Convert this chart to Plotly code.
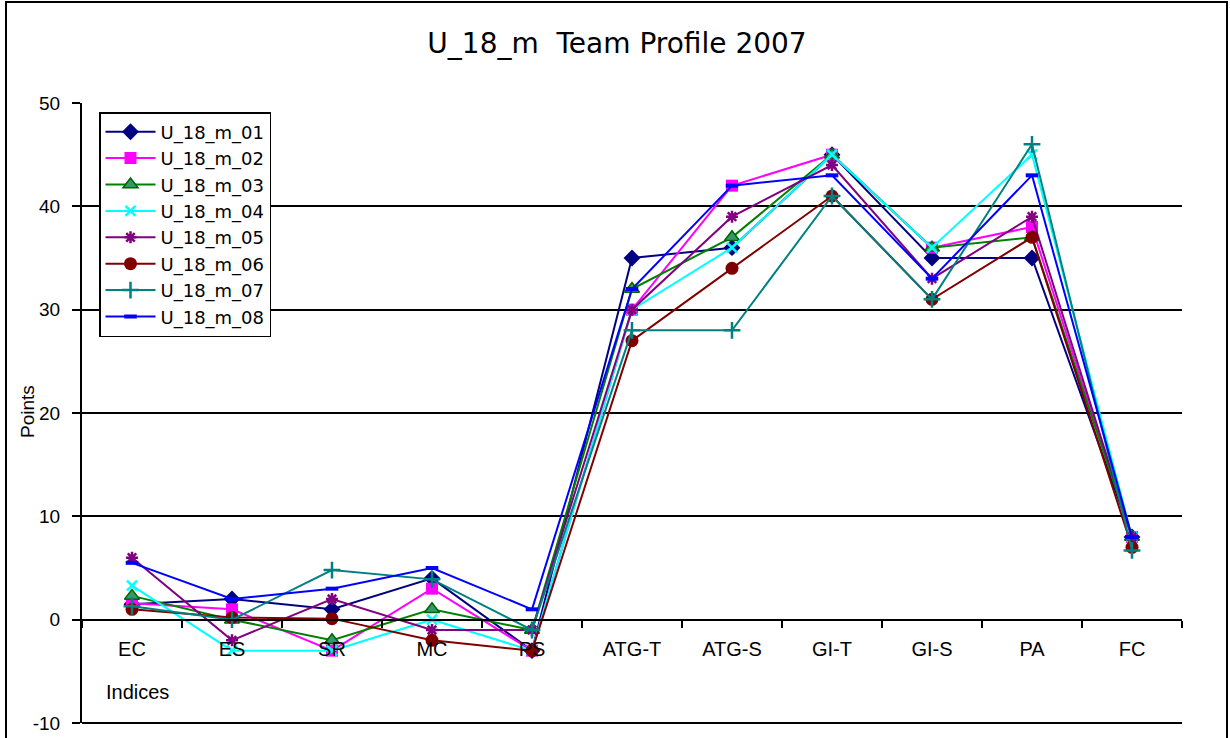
import plotly.graph_objects as go

categories = ["EC", "ES", "SR", "MC", "PS", "ATG-T", "ATG-S", "GI-T", "GI-S", "PA", "FC"]

s01 = [1.5, 2, 1, 4, -3, 35, 36, 45, 35, 35, 8]
s02 = [1.6, 1, -3, 3, -3, 30, 42, 45, 36, 38, 8]
s03 = [2.3, 0, -2, 1, -1, 32, 37, 45, 36, 37, 8]
s04 = [3.3, -3, -3, 0, -3, 30, 36, 45, 36, 45, 8]
s05 = [6, -2, 2, -1, -1, 30, 39, 44, 33, 39, 8]
s06 = [1, 0.2, 0.1, -2, -3, 27, 34, 41, 31, 37, 7]
s07 = [1.3, 0, 4.8, 3.9, -1, 28, 28, 41, 31, 46, 6.7]
s08 = [5.5, 2, 3, 5, 1, 32, 42, 43, 33, 43, 8]

series_names = ["U_18_m_01", "U_18_m_02", "U_18_m_03", "U_18_m_04",
                "U_18_m_05", "U_18_m_06", "U_18_m_07", "U_18_m_08"]
series_values = [s01, s02, s03, s04, s05, s06, s07, s08]

y_tick_values = [-10, 0, 10, 20, 30, 40, 50]
y_tick_labels = ["-10", "0", "10", "20", "30", "40", "50"]

styles = [
    dict(color="#000080", symbol="diamond", size=13, fill="#000080", lw=0),
    dict(color="#FF00FF", symbol="square", size=12, fill="#FF00FF", lw=0),
    dict(color="#008000", symbol="triangle-up", size=13, fill="#339966", lw=1.5),
    dict(color="#00FFFF", symbol="x-thin", size=10, fill="#00FFFF", lw=2.5),
    dict(color="#800080", symbol="asterisk", size=10, fill="#800080", lw=2.5),
    dict(color="#800000", symbol="circle", size=13, fill="#800000", lw=0),
    dict(color="#008080", symbol="cross-thin", size=12, fill="#008080", lw=2.5),
    dict(color="#0000FF", symbol="line-ew", size=9, fill="#0000FF", lw=4),
]

fig = go.Figure()
for name, vals, st in zip(series_names, series_values, styles):
    mline = dict(width=st["lw"], color=st["color"] if st["symbol"] != "triangle-up" else "#006400")
    fig.add_trace(go.Scatter(
        x=categories, y=vals, name=name, mode="lines+markers",
        line=dict(color=st["color"], width=2),
        marker=dict(symbol=st["symbol"], size=st["size"], color=st["fill"], line=mline),
    ))

L, R, T, B = 82, 48, 103, 15
W, H = 1230, 738
pw, ph = W - L - R, H - T - B

def px(x):
    return (x - L) / pw

def py(y):
    return (H - B - y) / ph

fig.update_layout(
    template="none",
    width=W, height=H,
    margin=dict(l=L, r=R, t=T, b=B, autoexpand=False),
    paper_bgcolor="white", plot_bgcolor="white",
    font=dict(family="Liberation Sans, Arial, sans-serif", size=19, color="black"),
    showlegend=True,
    legend=dict(
        x=px(99), y=py(112), xanchor="left", yanchor="top",
        bordercolor="black", borderwidth=1.5, bgcolor="white",
        font=dict(family="DejaVu Sans, Verdana, sans-serif", size=18, color="black"),
        tracegroupgap=0, itemwidth=50,
    ),
    title=dict(
        text="U_18_m  Team Profile 2007",
        x=617 / W, xanchor="center", y=1 - 43 / H, yanchor="middle",
        font=dict(family="DejaVu Sans, Verdana, sans-serif", size=28, color="black"),
    ),
    xaxis=dict(
        type="category", anchor="free", position=1 / 6, automargin=False,
        showline=True, linecolor="black", linewidth=2,
        ticks="outside", tickson="boundaries", ticklen=7, tickwidth=2, tickcolor="black",
        showgrid=False, zeroline=False, ticklabelstandoff=11,
        tickfont=dict(size=20), range=[-0.5, 10.5],
    ),
    yaxis=dict(
        range=[-10, 50], tickmode="array", tickvals=y_tick_values, ticktext=y_tick_labels,
        automargin=False,
        showline=True, linecolor="black", linewidth=2,
        ticks="outside", ticklen=8, tickwidth=2, tickcolor="black",
        showgrid=True, gridcolor="black", gridwidth=2,
        zeroline=True, zerolinecolor="black", zerolinewidth=2,
        ticklabelstandoff=8, tickfont=dict(size=19),
    ),
    annotations=[
        dict(text="Points", x=px(27), y=py(412), xref="paper", yref="paper",
             showarrow=False, textangle=-90, font=dict(size=19), xanchor="center", yanchor="middle"),
        dict(text="Indices", x=px(137), y=py(692), xref="paper", yref="paper",
             showarrow=False, font=dict(size=20), xanchor="center", yanchor="middle"),
    ],
    shapes=[
        dict(type="rect", xref="paper", yref="paper",
             x0=px(6), x1=px(1227), y0=py(745), y1=py(2),
             line=dict(color="black", width=2), layer="below"),
        dict(type="line", xref="paper", yref="paper",
             x0=0, x1=1, y0=py(723), y1=py(723),
             line=dict(color="black", width=2), layer="below"),
    ],
)

fig.write_html("out.html", config={"displayModeBar": False},
               post_script="document.body.style.margin='0';")
